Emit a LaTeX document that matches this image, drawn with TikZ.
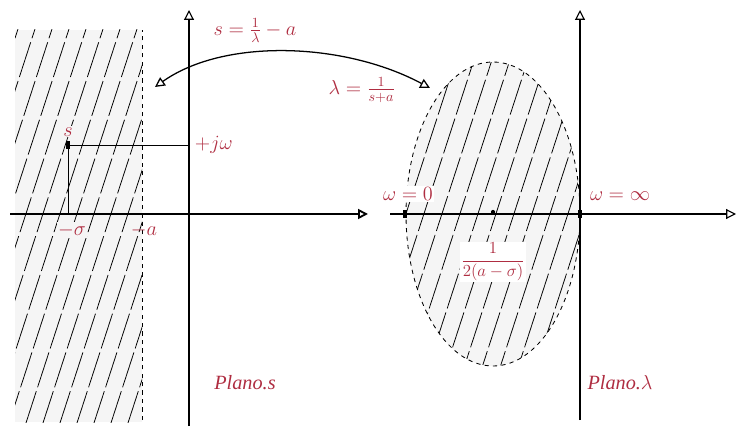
\documentclass[tikz,border=0pt]{standalone}
\usepackage{amsmath}
\usepackage{fontspec}
\setmainfont{Liberation Serif}
\usetikzlibrary{arrows.meta,positioning}
\definecolor{lbl}{RGB}{175,45,65}

\begin{document}
\begin{tikzpicture}[
        axis/.style={line width=0.8pt, -{Triangle[open, length=7pt, width=7pt]}},
        hatch/.style={line width=0.55pt, dash pattern=on 26pt off 3pt},
        lab/.style={text=lbl, font=\Large, inner sep=1pt},
        ptmark/.style={fill=black, inner sep=0pt, minimum width=3pt, minimum height=6pt},
        dotm/.style={circle, fill=black, inner sep=0pt, minimum size=3pt},
        map/.style={line width=0.9pt, {Triangle[open, length=7pt, width=7pt]}-{Triangle[open, length=7pt, width=7pt]}}
    ]
        \useasboundingbox (0,0) rectangle (18.425,10.65);

        % plano s: semiplano rayado
        \fill[gray!8] (0.375,0.1) rectangle (3.55,9.9);
        \begin{scope}
            \clip (0.375,0.1) rectangle (3.55,9.9);
            \foreach \x in {-3.2,-2.775,...,3.6}
                \draw[hatch] (\x,0) -- ++(72:11);
        \end{scope}
        \draw[dashed, line width=0.6pt] (3.55,0.15) -- (3.55,9.9);

        % ejes plano s
        \coordinate (sx0) at (0.25,5.3);
        \coordinate (sx1) at (9.2,5.3);
        \coordinate (sy0) at (4.725,0);
        \coordinate (sy1) at (4.725,10.4);
        \draw[axis, line width=1.3pt] (sx0) -- (sx1);
        \draw[axis] (sy0) -- (sy1);

        % punto s
        \node[ptmark] (ps) at (1.7,7.025) {};
        \coordinate (pjw) at (4.725,7.025);
        \coordinate (psig) at (1.7,5.3);
        \draw[line width=0.6pt] (ps.center) -- (pjw);
        \draw[line width=0.6pt] (ps.south) -- (psig);
        \node[lab, fill=gray!8, above=2pt of ps] (ls) {$s$};
        \node[lab, right=3pt of pjw] (ljw) {$+j\omega$};
        \node[lab, fill=gray!8] (lsig) at (1.8,4.9) {$-\sigma$};
        \node[lab] (la) at (3.6,4.9) {$-a$};

        % plano lambda: circulo rayado
        \fill[gray!8] (12.325,5.3) ellipse [x radius=2.175, y radius=3.8];
        \begin{scope}
            \clip (12.325,5.3) ellipse [x radius=2.175, y radius=3.8];
            \foreach \x in {6.5,6.95,...,15}
                \draw[hatch] (\x,1) -- ++(72:9);
        \end{scope}
        \draw[dashed, line width=0.6pt] (12.325,5.3) ellipse [x radius=2.175, y radius=3.8];

        % ejes plano lambda
        \coordinate (lx0) at (9.75,5.3);
        \coordinate (lx1) at (18.4,5.3);
        \coordinate (ly0) at (14.5,0.15);
        \coordinate (ly1) at (14.5,10.4);
        \draw[axis] (lx0) -- (lx1);
        \draw[axis] (ly0) -- (ly1);

        \node[ptmark] (w0) at (10.125,5.3) {};
        \node[ptmark] (winf) at (14.5,5.3) {};
        \node[dotm] (cen) at (12.325,5.35) {};
        \node[lab, fill=white] (lw0) at (10.2,5.8) {$\omega=0$};
        \node[lab] (lwinf) at (15.5,5.75) {$\omega=\infty$};
        \node[lab, fill=white, font=\large] (lcen) at (12.325,4.1) {$\dfrac{1}{2(a-\sigma)}$};

        % transformacion
        \coordinate (tA) at (3.875,8.475);
        \coordinate (tB) at (10.75,8.45);
        \draw[map] (tA) .. controls (5.6,9.7) and (8.6,9.6) .. (tB);
        \node[lab] (ls2) at (6.375,9.9) {$s=\frac{1}{\lambda}-a$};
        \node[lab] (ll2) at (9.05,8.4) {$\lambda=\frac{1}{s+a}$};

        \node[lab] (pls) at (6.125,1.075) {\textit{Plano.s}};
        \node[lab] (pll) at (15.5,1.075) {\textit{Plano.}$\lambda$};
    \end{tikzpicture}
\end{document}
